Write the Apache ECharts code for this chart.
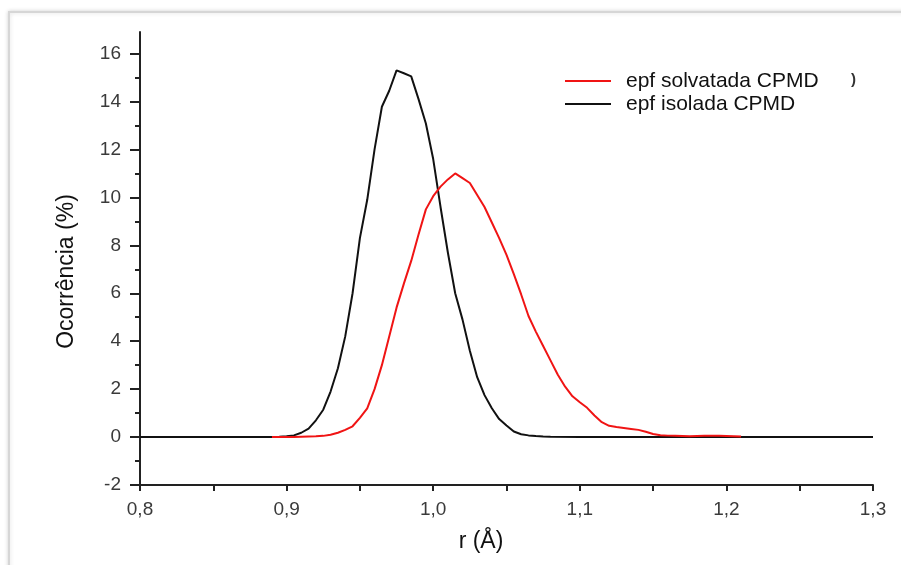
<!DOCTYPE html>
<html>
<head>
<meta charset="utf-8">
<script src="https://cdn.jsdelivr.net/npm/echarts@6/dist/echarts.min.js"></script>
<style>
html,body{margin:0;padding:0;background:#fff;}
#chart{width:901px;height:565px;}
</style>
</head>
<body>
<div id="chart"></div>
<script>
// ---- data ----
const seriesNames = ['epf solvatada CPMD', 'epf isolada CPMD'];

const blackR = [0.80, 0.85, 0.89, 0.895, 0.900, 0.905, 0.910, 0.915, 0.920, 0.925, 0.930, 0.935, 0.940, 0.945, 0.950, 0.955, 0.960, 0.965, 0.970, 0.975, 0.980, 0.985, 0.990, 0.995, 1.000, 1.005, 1.010, 1.015, 1.020, 1.025, 1.030, 1.035, 1.040, 1.045, 1.050, 1.055, 1.060, 1.065, 1.070, 1.075, 1.080, 1.10, 1.15, 1.20, 1.25, 1.30];
const blackV = [0, 0, 0, 0.01, 0.03, 0.07, 0.18, 0.35, 0.70, 1.14, 1.90, 2.87, 4.20, 6.00, 8.30, 9.90, 12.00, 13.78, 14.45, 15.30, 15.18, 15.05, 14.10, 13.08, 11.60, 9.60, 7.70, 6.00, 4.90, 3.60, 2.50, 1.75, 1.20, 0.75, 0.48, 0.23, 0.12, 0.07, 0.04, 0.02, 0.01, 0, 0, 0, 0, 0];

const redR = [0.890, 0.895, 0.900, 0.905, 0.910, 0.915, 0.920, 0.925, 0.930, 0.935, 0.940, 0.945, 0.950, 0.955, 0.960, 0.965, 0.970, 0.975, 0.980, 0.985, 0.990, 0.995, 1.000, 1.005, 1.010, 1.015, 1.020, 1.025, 1.030, 1.035, 1.040, 1.045, 1.050, 1.055, 1.060, 1.065, 1.070, 1.075, 1.080, 1.085, 1.090, 1.095, 1.100, 1.105, 1.110, 1.115, 1.120, 1.125, 1.130, 1.135, 1.140, 1.145, 1.150, 1.155, 1.160, 1.165, 1.170, 1.175, 1.180, 1.185, 1.190, 1.195, 1.200, 1.205, 1.210];
const redV = [0, 0, 0, 0, 0.01, 0.02, 0.03, 0.05, 0.10, 0.18, 0.30, 0.45, 0.80, 1.20, 2.00, 3.00, 4.20, 5.40, 6.40, 7.35, 8.45, 9.50, 10.05, 10.45, 10.75, 11.00, 10.80, 10.60, 10.10, 9.60, 8.95, 8.30, 7.60, 6.80, 5.95, 5.05, 4.40, 3.80, 3.20, 2.60, 2.10, 1.70, 1.45, 1.22, 0.90, 0.62, 0.47, 0.42, 0.38, 0.34, 0.30, 0.22, 0.13, 0.08, 0.06, 0.05, 0.04, 0.03, 0.04, 0.05, 0.05, 0.05, 0.04, 0.03, 0.02];

const xLabelValues = [0.8, 0.9, 1.0, 1.1, 1.2, 1.3];
const xTickValues = [0.8, 0.85, 0.9, 0.95, 1.0, 1.05, 1.1, 1.15, 1.2, 1.25, 1.3];
const yLabelValues = [-2, 0, 2, 4, 6, 8, 10, 12, 14, 16];
const yMinorTickValues = [-1, 1, 3, 5, 7, 9, 11, 13, 15];

const xTitle = 'r (Å)';
const yTitle = 'Ocorrência (%)';

// ---- chart ----
const zip = (a, b) => a.map((v, i) => [v, b[i]]);
const FONT = '"Liberation Sans", Arial, sans-serif';
const chart = echarts.init(document.getElementById('chart'), null, {renderer: 'canvas'});

chart.setOption({
  backgroundColor: '#ffffff',
  animation: false,
  graphic: [
    {type: 'rect', z: -10, silent: true,
     shape: {x: 9, y: 12, width: 900, height: 560},
     style: {fill: '#ffffff', stroke: '#d6d6d6', lineWidth: 2,
             shadowBlur: 4, shadowColor: 'rgba(0,0,0,0.15)'}},
    {type: 'text', left: 851, top: 72, silent: true,
     style: {text: ')', fill: '#333', font: 'bold 15px ' + FONT}}
  ],
  grid: {left: 140, right: 28, top: 32, bottom: 80, containLabel: false},
  legend: {
    orient: 'vertical', left: 560, top: 65,
    data: seriesNames,
    icon: 'rect', itemWidth: 46, itemHeight: 2, itemGap: 1,
    textStyle: {fontFamily: FONT, fontSize: 21, color: '#111', lineHeight: 22, padding: [0, 0, 0, 10]}
  },
  xAxis: {
    type: 'value', min: 0.8, max: 1.3,
    name: xTitle, nameLocation: 'middle', nameGap: 45,
    nameTextStyle: {fontFamily: FONT, fontSize: 23, color: '#111', padding: [0, 51, 0, 0]},
    axisLine: {show: true, onZero: false, lineStyle: {color: '#222', width: 2}},
    axisTick: {show: true, length: 6, customValues: xTickValues, lineStyle: {color: '#222', width: 2}},
    axisLabel: {customValues: xLabelValues, margin: 15, fontFamily: FONT, fontSize: 19, color: '#3a3a3a',
                formatter: v => Number(v).toFixed(1).replace('.', ',')},
    splitLine: {show: false}
  },
  yAxis: [
    {
      type: 'value', min: -2, max: 16.9, position: 'left',
      name: yTitle, nameLocation: 'middle', nameGap: 62, nameRotate: 90,
      nameTextStyle: {fontFamily: FONT, fontSize: 23, color: '#111', padding: [0, 26, 0, 0]},
      axisLine: {show: true, onZero: false, lineStyle: {color: '#222', width: 2}},
      axisTick: {show: true, length: 10, customValues: yLabelValues, lineStyle: {color: '#222', width: 2}},
      axisLabel: {customValues: yLabelValues, margin: 19, fontFamily: FONT, fontSize: 19, color: '#3a3a3a',
                  formatter: v => String(v)},
      splitLine: {show: false}
    },
    {
      type: 'value', min: -2, max: 16.9, position: 'left',
      axisLine: {show: false},
      axisTick: {show: true, length: 5, customValues: yMinorTickValues, lineStyle: {color: '#222', width: 2}},
      axisLabel: {show: false},
      splitLine: {show: false}
    }
  ],
  series: [
    {
      name: seriesNames[1], type: 'line', yAxisIndex: 0,
      data: zip(blackR, blackV), showSymbol: false, symbol: 'none',
      lineStyle: {color: '#111111', width: 2}, itemStyle: {color: '#111111'}, z: 2
    },
    {
      name: seriesNames[0], type: 'line', yAxisIndex: 0,
      data: zip(redR, redV), showSymbol: false, symbol: 'none',
      lineStyle: {color: '#f01414', width: 2}, itemStyle: {color: '#f01414'}, z: 3
    }
  ]
});
</script>
</body>
</html>
